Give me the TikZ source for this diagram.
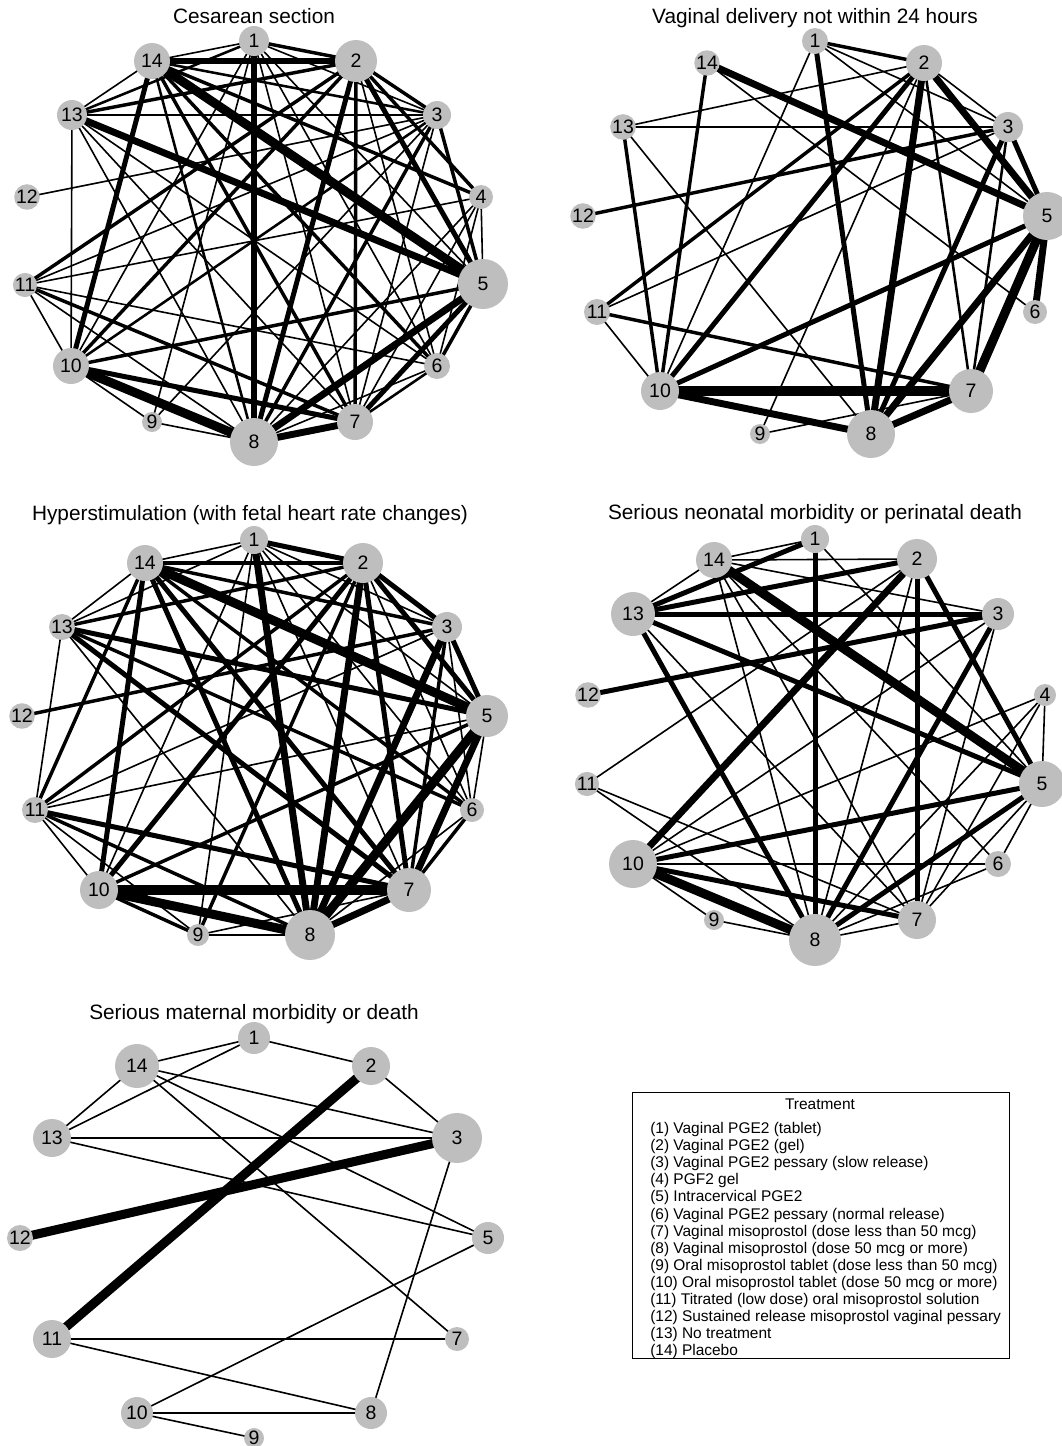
\documentclass[tikz,border=0pt]{standalone}
\usepackage{fontspec}
\setmainfont{Liberation Sans}
\definecolor{nodegray}{RGB}{190,190,190}
\pgfdeclarelayer{bg}
\pgfsetlayers{bg,main}
\tikzset{
  nd/.style={circle, fill=nodegray, draw=none, inner sep=0pt, font=\fontsize{14.6}{16}\selectfont},
  w1/.style={line width=1.2pt},
  w2/.style={line width=1.9pt},
  w3/.style={line width=2.6pt},
  w4/.style={line width=3.75pt},
  w5/.style={line width=5.2pt},
  w6/.style={line width=6.8pt},
  ttl/.style={anchor=base, font=\fontsize{15.6}{18}\selectfont, inner sep=0pt},
  legtxt/.style={anchor=base west, font=\fontsize{11.6}{13}\selectfont, inner sep=0pt},
  legbox/.style={draw, line width=0.8pt, anchor=north west, inner sep=0pt}
}
\newcommand\nd[5]{\node[nd,minimum size=#4*1.5pt] (#1) at (#2,#3) {#5};}
\newcommand\ed[3]{\draw[#1] (#2.center) -- (#3.center);}
\begin{document}
\begin{tikzpicture}[x=0.75pt,y=-0.75pt]
\useasboundingbox (0,0) rectangle (1061,1446);
% ---------------- Panel 1 ----------------
\node[ttl] (t1) at (254,23.5) {Cesarean section};
\nd{a1}{254}{41}{15}{1}
\nd{a14}{152}{61}{18}{14}
\nd{a2}{356}{61}{21}{2}
\nd{a13}{72}{115}{15}{13}
\nd{a3}{437}{115}{14}{3}
\nd{a12}{27}{197}{11}{12}
\nd{a4}{481}{197}{12}{4}
\nd{a11}{25}{285}{12}{11}
\nd{a5}{483}{284}{25}{5}
\nd{a10}{71}{366}{18}{10}
\nd{a6}{437}{366}{13}{6}
\nd{a9}{152}{422}{10}{9}
\nd{a7}{355}{422}{18}{7}
\nd{a8}{254}{442}{24}{8}
\begin{pgfonlayer}{bg}
\ed{w1}{a1}{a14}\ed{w3}{a1}{a2}\ed{w5}{a1}{a8}\ed{w2}{a1}{a13}\ed{w1}{a1}{a3}
\ed{w1}{a1}{a5}\ed{w1}{a1}{a6}\ed{w1}{a1}{a7}\ed{w1}{a1}{a10}\ed{w1}{a1}{a9}
\ed{w5}{a14}{a2}\ed{w1}{a14}{a13}\ed{w2}{a14}{a3}\ed{w3}{a14}{a4}\ed{w6}{a14}{a5}
\ed{w3}{a14}{a6}\ed{w3}{a14}{a7}\ed{w2}{a14}{a8}\ed{w4}{a14}{a10}
\ed{w3}{a13}{a2}\ed{w1}{a13}{a3}\ed{w5}{a13}{a5}\ed{w1}{a13}{a10}\ed{w1}{a13}{a6}
\ed{w1}{a13}{a7}\ed{w1}{a13}{a8}
\ed{w1}{a12}{a3}
\ed{w3}{a11}{a2}\ed{w1}{a11}{a3}\ed{w1}{a11}{a4}\ed{w1}{a11}{a6}\ed{w3}{a11}{a7}
\ed{w1}{a11}{a8}\ed{w1}{a11}{a10}
\ed{w3}{a10}{a2}\ed{w2}{a10}{a3}\ed{w3}{a10}{a5}\ed{w6}{a10}{a8}\ed{w4}{a10}{a7}
\ed{w1}{a10}{a9}
\ed{w1}{a9}{a8}\ed{w1}{a9}{a3}
\ed{w4}{a8}{a2}\ed{w3}{a8}{a3}\ed{w5}{a8}{a5}\ed{w5}{a8}{a7}\ed{w1}{a8}{a6}\ed{w1}{a8}{a4}
\ed{w3}{a7}{a2}\ed{w4}{a7}{a5}\ed{w2}{a7}{a6}\ed{w1}{a7}{a3}\ed{w1}{a7}{a4}
\ed{w3}{a6}{a5}\ed{w1}{a6}{a4}\ed{w1}{a6}{a2}
\ed{w4}{a5}{a2}\ed{w3}{a5}{a3}\ed{w1}{a5}{a4}
\ed{w3}{a4}{a2}\ed{w3}{a3}{a2}
\end{pgfonlayer}
% ---------------- Panel 2 ----------------
\node[ttl] (t2) at (815,23.5) {Vaginal delivery not within 24 hours};
\nd{b1}{815}{41}{13}{1}
\nd{b14}{707}{63}{12}{14}
\nd{b2}{924}{63}{18}{2}
\nd{b13}{623}{127}{12}{13}
\nd{b3}{1008}{127}{15}{3}
\nd{b12}{583}{216}{10}{12}
\nd{b5}{1047}{216}{24}{5}
\nd{b11}{597}{312}{13}{11}
\nd{b6}{1035}{312}{12}{6}
\nd{b10}{660}{391}{19}{10}
\nd{b7}{971}{391}{22}{7}
\nd{b9}{760}{434}{10}{9}
\nd{b8}{871}{434}{24}{8}
\begin{pgfonlayer}{bg}
\ed{w3}{b1}{b2}\ed{w1}{b1}{b3}\ed{w1}{b1}{b5}\ed{w4}{b1}{b8}\ed{w1}{b1}{b10}
\ed{w5}{b14}{b5}\ed{w3}{b14}{b10}\ed{w1}{b14}{b6}
\ed{w1}{b13}{b2}\ed{w1}{b13}{b3}\ed{w3}{b13}{b10}\ed{w1}{b13}{b8}
\ed{w3}{b12}{b3}
\ed{w3}{b11}{b2}\ed{w1}{b11}{b3}\ed{w1}{b11}{b10}\ed{w3}{b11}{b7}
\ed{w4}{b2}{b10}\ed{w1}{b2}{b9}\ed{w5}{b2}{b8}\ed{w2}{b2}{b7}\ed{w1}{b2}{b3}\ed{w5}{b2}{b5}
\ed{w4}{b3}{b5}\ed{w4}{b3}{b8}\ed{w2}{b3}{b7}
\ed{w4}{b5}{b10}\ed{w5}{b5}{b8}\ed{w6}{b5}{b7}\ed{w5}{b5}{b6}
\ed{w6}{b10}{b7}\ed{w5}{b10}{b8}
\ed{w1}{b9}{b7}\ed{w5}{b8}{b7}
\end{pgfonlayer}
% ---------------- Panel 3 ----------------
\node[ttl] (t3) at (250,520.5) {Hyperstimulation (with fetal heart rate changes)};
\nd{c1}{254}{540}{14}{1}
\nd{c14}{145}{563}{18}{14}
\nd{c2}{363}{563}{20}{2}
\nd{c13}{62}{627}{13}{13}
\nd{c3}{447}{627}{15}{3}
\nd{c12}{22}{716}{11}{12}
\nd{c5}{487}{716}{21}{5}
\nd{c11}{35}{810}{13}{11}
\nd{c6}{472}{810}{12}{6}
\nd{c10}{99}{890}{19}{10}
\nd{c7}{409}{890}{22}{7}
\nd{c9}{198}{935}{11}{9}
\nd{c8}{310}{935}{25}{8}
\begin{pgfonlayer}{bg}
\ed{w1}{c1}{c14}\ed{w4}{c1}{c2}\ed{w5}{c1}{c8}\ed{w1}{c1}{c3}\ed{w1}{c1}{c5}
\ed{w1}{c1}{c6}\ed{w1}{c1}{c7}\ed{w1}{c1}{c10}\ed{w1}{c1}{c9}\ed{w1}{c1}{c13}
\ed{w3}{c14}{c2}\ed{w3}{c14}{c3}\ed{w6}{c14}{c5}\ed{w3}{c14}{c6}\ed{w4}{c14}{c7}
\ed{w4}{c14}{c8}\ed{w4}{c14}{c10}\ed{w3}{c14}{c11}\ed{w1}{c14}{c13}
\ed{w3}{c13}{c2}\ed{w4}{c13}{c5}\ed{w3}{c13}{c6}\ed{w4}{c13}{c7}\ed{w1}{c13}{c8}\ed{w1}{c13}{c11}
\ed{w3}{c12}{c3}
\ed{w3}{c11}{c2}\ed{w1}{c11}{c3}\ed{w1}{c11}{c5}\ed{w4}{c11}{c7}\ed{w3}{c11}{c8}
\ed{w1}{c11}{c10}\ed{w1}{c11}{c9}
\ed{w4}{c10}{c2}\ed{w3}{c10}{c5}\ed{w6}{c10}{c7}\ed{w6}{c10}{c8}\ed{w3}{c10}{c9}
\ed{w3}{c9}{c2}\ed{w1}{c9}{c7}\ed{w1}{c9}{c8}
\ed{w5}{c8}{c2}\ed{w5}{c8}{c3}\ed{w6}{c8}{c5}\ed{w1}{c8}{c6}\ed{w5}{c8}{c7}
\ed{w4}{c7}{c2}\ed{w3}{c7}{c3}\ed{w5}{c7}{c5}\ed{w3}{c7}{c6}
\ed{w1}{c6}{c2}\ed{w1}{c6}{c3}\ed{w1}{c6}{c5}
\ed{w4}{c5}{c2}\ed{w4}{c5}{c3}\ed{w4}{c3}{c2}
\end{pgfonlayer}
% ---------------- Panel 4 ----------------
\node[ttl] (t4) at (815,519.5) {Serious neonatal morbidity or perinatal death};
\nd{d1}{815}{539}{14}{1}
\nd{d14}{714}{560}{18}{14}
\nd{d2}{917}{559}{20}{2}
\nd{d13}{633}{614}{22}{13}
\nd{d3}{998}{614}{16}{3}
\nd{d12}{588}{695}{11}{12}
\nd{d4}{1045}{695}{11}{4}
\nd{d11}{587}{784}{11}{11}
\nd{d5}{1042}{784}{23}{5}
\nd{d10}{633}{864}{24}{10}
\nd{d6}{998}{864}{13}{6}
\nd{d9}{714}{920}{10}{9}
\nd{d7}{917}{920}{19}{7}
\nd{d8}{815}{940}{26}{8}
\begin{pgfonlayer}{bg}
\ed{w1}{d1}{d14}\ed{w4}{d1}{d13}\ed{w4}{d1}{d8}\ed{w1}{d1}{d5}
\ed{w1}{d14}{d2}\ed{w1}{d14}{d13}\ed{w1}{d14}{d3}\ed{w6}{d14}{d5}\ed{w1}{d14}{d7}
\ed{w1}{d14}{d8}\ed{w1}{d14}{d6}
\ed{w4}{d2}{d13}\ed{w5}{d2}{d10}\ed{w4}{d2}{d7}\ed{w4}{d2}{d5}\ed{w1}{d2}{d8}\ed{w1}{d2}{d11}
\ed{w4}{d13}{d3}\ed{w4}{d13}{d5}\ed{w4}{d13}{d8}\ed{w1}{d13}{d7}
\ed{w4}{d3}{d12}\ed{w4}{d3}{d8}\ed{w1}{d3}{d10}\ed{w1}{d3}{d7}
\ed{w1}{d4}{d10}\ed{w1}{d4}{d8}\ed{w1}{d4}{d5}\ed{w1}{d4}{d7}
\ed{w4}{d5}{d10}\ed{w4}{d5}{d8}\ed{w1}{d5}{d6}\ed{w1}{d5}{d7}
\ed{w1}{d6}{d10}\ed{w1}{d6}{d8}
\ed{w1}{d11}{d7}\ed{w1}{d11}{d8}
\ed{w6}{d10}{d8}\ed{w4}{d10}{d7}\ed{w1}{d10}{d9}
\ed{w1}{d9}{d8}\ed{w1}{d8}{d7}
\end{pgfonlayer}
% ---------------- Panel 5 ----------------
\node[ttl] (t5) at (254,1019) {Serious maternal morbidity or death};
\nd{e1}{254}{1038}{16}{1}
\nd{e14}{137}{1066}{22}{14}
\nd{e2}{371}{1066}{19}{2}
\nd{e13}{52}{1138}{19}{13}
\nd{e3}{457}{1138}{25}{3}
\nd{e12}{20}{1238}{13}{12}
\nd{e5}{488}{1238}{16}{5}
\nd{e11}{52}{1339}{19}{11}
\nd{e7}{457}{1339}{12}{7}
\nd{e10}{137}{1413}{16}{10}
\nd{e8}{371}{1413}{16}{8}
\nd{e9}{254}{1438}{10}{9}
\begin{pgfonlayer}{bg}
\ed{w1}{e1}{e14}\ed{w1}{e1}{e13}\ed{w1}{e1}{e2}
\ed{w1}{e14}{e13}\ed{w1}{e14}{e3}\ed{w1}{e14}{e5}\ed{w1}{e14}{e7}
\ed{w1}{e2}{e3}\ed{w6}{e2}{e11}
\ed{w1}{e13}{e3}\ed{w1}{e13}{e5}
\ed{w6}{e12}{e3}\ed{w1}{e3}{e8}
\ed{w1}{e11}{e7}\ed{w1}{e11}{e8}
\ed{w1}{e10}{e8}\ed{w1}{e10}{e5}\ed{w1}{e10}{e9}
\end{pgfonlayer}
% ---------------- Legend ----------------
\node[legbox, minimum width=377*0.75pt, minimum height=266*0.75pt] (lbox) at (632,1092) {};
\node[anchor=base, font=\fontsize{11.6}{13}\selectfont, inner sep=0pt] (lt) at (820,1109.5) {Treatment};
\foreach \i/\t in {1/{(1) Vaginal PGE2 (tablet)},
  2/{(2) Vaginal PGE2 (gel)},
  3/{(3) Vaginal PGE2 pessary (slow release)},
  4/{(4) PGF2 gel},
  5/{(5) Intracervical PGE2},
  6/{(6) Vaginal PGE2 pessary (normal release)},
  7/{(7) Vaginal misoprostol (dose less than 50 mcg)},
  8/{(8) Vaginal misoprostol (dose 50 mcg or more)},
  9/{(9) Oral misoprostol tablet (dose less than 50 mcg)},
  10/{(10) Oral misoprostol tablet (dose 50 mcg or more)},
  11/{(11) Titrated (low dose) oral misoprostol solution},
  12/{(12) Sustained release misoprostol vaginal pessary},
  13/{(13) No treatment},
  14/{(14) Placebo}}
  \node[legtxt] (leg\i) at (650,{1133.5+(\i-1)*17.1}) {\t};
\end{tikzpicture}
\end{document}
